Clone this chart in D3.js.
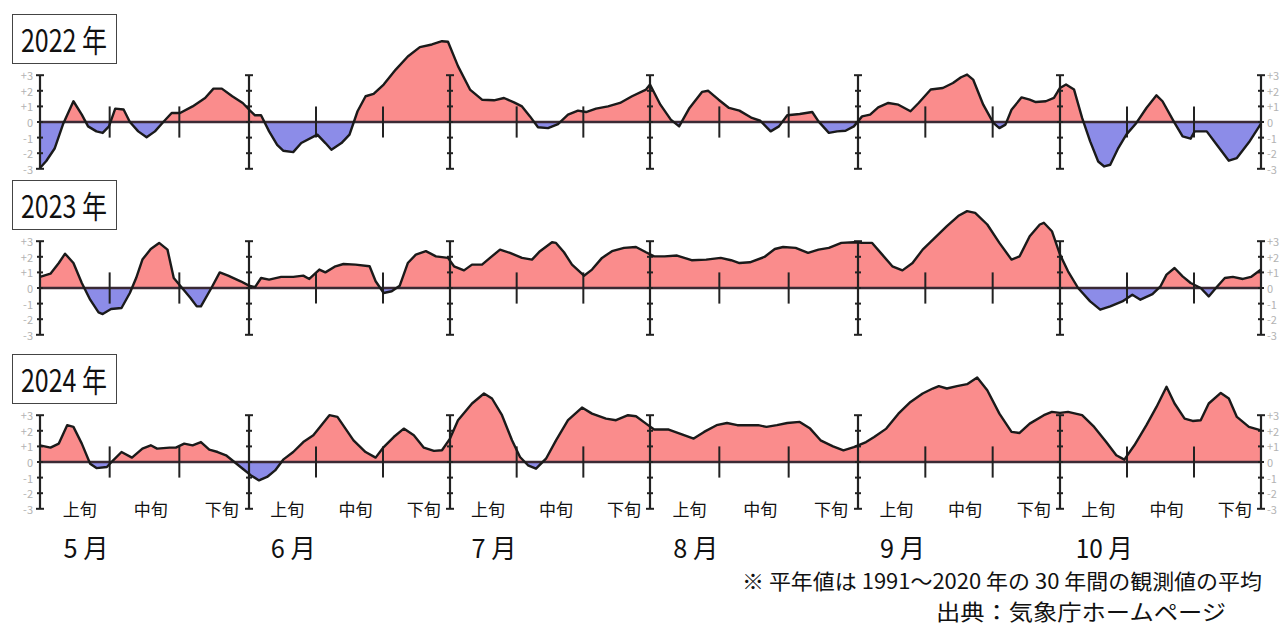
<!DOCTYPE html>
<html>
<head>
<meta charset="utf-8">
<script src="https://cdn.jsdelivr.net/npm/d3@7"></script>
<style>
  body { margin: 0; background: #fff; }
  svg { display: block; }
  text { font-family: "Noto Sans CJK JP", "Noto Sans", sans-serif; }
</style>
</head>
<body>
<svg id="chart" width="1280" height="628"></svg>
<script>
// labels
const years = ["2022 年", "2023 年", "2024 年"]
const months = ["5 月", "6 月", "7 月", "8 月", "9 月", "10 月"]
const dekads = ["上旬", "中旬", "下旬"]
const yTicks = [3, 2, 1, 0, -1, -2, -3]
const yTickLabels = ["+3", "+2", "+1", "0", "-1", "-2", "-3"]
const note1 = "※ 平年値は 1991～2020 年の 30 年間の観測値の平均"
const note2 = "出典：気象庁ホームページ"

// [months since 1 May, anomaly °C]
const anom2022 = [[0,-2.95],[0.03,-2.5],[0.07,-1.7],[0.11,-0.15],[0.16,1.33],[0.20,0.47],[0.23,-0.28],[0.27,-0.6],[0.30,-0.7],[0.33,-0.28],[0.36,0.86],[0.40,0.8],[0.43,0],[0.47,-0.6],[0.51,-0.98],[0.55,-0.6],[0.59,0],[0.63,0.58],[0.67,0.58],[0.73,1.0],[0.79,1.54],[0.83,2.14],[0.87,2.14],[0.92,1.65],[0.97,1.22],
  [1.00,0.8],[1.03,0.43],[1.06,0.43],[1.10,-0.6],[1.14,-1.46],[1.17,-1.84],[1.22,-1.93],[1.26,-1.35],[1.34,-0.81],[1.38,-1.35],[1.41,-1.78],[1.46,-1.35],[1.50,-0.81],[1.54,0.69],[1.58,1.65],[1.62,1.8],[1.67,2.4],[1.73,3.36],[1.79,4.2],[1.85,4.8],[1.91,4.97],[1.96,5.18],[1.99,5.14],
  [2.04,3.58],[2.10,2.08],[2.16,1.43],[2.22,1.39],[2.27,1.54],[2.32,1.26],[2.36,1.0],[2.40,0.36],[2.44,-0.34],[2.49,-0.39],[2.54,-0.13],[2.59,0.47],[2.64,0.73],[2.68,0.64],[2.73,0.86],[2.79,1.0],[2.85,1.22],[2.91,1.65],[2.98,2.08],
  [3.00,2.4],[3.05,1.11],[3.10,0.15],[3.14,-0.28],[3.19,0.9],[3.25,1.93],[3.28,2.0],[3.33,1.43],[3.38,0.9],[3.43,0.73],[3.49,0.26],[3.53,0.08],[3.58,-0.6],[3.62,-0.28],[3.66,0.43],[3.72,0.51],[3.78,0.64],[3.81,0.04],[3.86,-0.7],[3.90,-0.6],[3.94,-0.56],[3.98,-0.28],
  [4.02,0.36],[4.06,0.47],[4.10,0.94],[4.15,1.22],[4.20,1.11],[4.26,0.69],[4.30,1.22],[4.36,2.08],[4.42,2.18],[4.47,2.5],[4.51,2.87],[4.54,3.04],[4.57,2.72],[4.62,1.11],[4.67,-0.06],[4.70,-0.39],[4.73,-0.17],[4.76,0.79],[4.81,1.58],[4.85,1.43],[4.88,1.28],[4.93,1.33],[4.97,1.54],
  [5.00,2.18],[5.03,2.4],[5.07,2.08],[5.11,0.26],[5.15,-1.24],[5.19,-2.53],[5.22,-2.85],[5.25,-2.74],[5.29,-1.67],[5.33,-0.81],[5.38,-0.06],[5.43,0.9],[5.48,1.71],[5.51,1.33],[5.57,-0.06],[5.61,-0.92],[5.65,-1.07],[5.67,-0.6],[5.73,-0.6],[5.78,-1.46],[5.84,-2.48],[5.88,-2.31],[5.94,-1.3],[6.00,-0.1]]

const anom2023 = [[0,0.71],[0.05,0.92],[0.09,1.6],[0.12,2.2],[0.16,1.6],[0.20,0.32],[0.24,-0.75],[0.28,-1.56],[0.30,-1.67],[0.34,-1.35],[0.39,-1.28],[0.43,-0.32],[0.46,0.64],[0.49,1.82],[0.53,2.5],[0.57,2.89],[0.61,2.46],[0.64,0.64],[0.68,0],[0.72,-0.64],[0.75,-1.18],[0.77,-1.18],[0.82,0],[0.86,1.0],[0.90,0.79],[0.96,0.43],
  [1.00,0.15],[1.03,0.06],[1.06,0.64],[1.10,0.54],[1.16,0.71],[1.22,0.71],[1.27,0.79],[1.30,0.58],[1.35,1.18],[1.38,1.0],[1.43,1.39],[1.47,1.54],[1.53,1.5],[1.60,1.39],[1.63,0.43],[1.67,-0.32],[1.71,-0.21],[1.75,0.15],[1.79,1.6],[1.83,2.14],[1.88,2.36],[1.93,2.03],[1.99,1.93],
  [2.02,1.39],[2.07,1.13],[2.11,1.5],[2.16,1.5],[2.20,1.93],[2.25,2.46],[2.30,2.25],[2.36,1.93],[2.41,1.82],[2.45,2.36],[2.51,2.93],[2.53,2.89],[2.57,2.29],[2.61,1.5],[2.67,0.79],[2.71,1.18],[2.76,1.93],[2.81,2.36],[2.87,2.57],[2.93,2.63],[2.98,2.29],
  [3.02,2.03],[3.07,2.03],[3.13,2.08],[3.20,1.78],[3.27,1.82],[3.34,1.93],[3.39,1.78],[3.43,1.6],[3.48,1.65],[3.55,1.99],[3.60,2.5],[3.64,2.63],[3.70,2.57],[3.76,2.25],[3.81,2.46],[3.86,2.57],[3.92,2.89],[3.98,2.93],
  [4.02,2.89],[4.07,2.89],[4.12,2.14],[4.17,1.39],[4.22,1.13],[4.27,1.6],[4.32,2.46],[4.38,3.21],[4.44,3.96],[4.50,4.65],[4.54,4.93],[4.58,4.82],[4.64,4.07],[4.70,2.89],[4.76,1.82],[4.80,2.03],[4.85,3.32],[4.90,4.07],[4.92,4.18],[4.96,3.64],
  [5.00,2.14],[5.04,1.07],[5.09,0],[5.15,-0.86],[5.20,-1.39],[5.25,-1.18],[5.31,-0.86],[5.36,-0.43],[5.40,-0.75],[5.46,-0.39],[5.50,0.11],[5.53,0.86],[5.57,1.28],[5.61,0.75],[5.65,0.32],[5.70,0],[5.74,-0.54],[5.78,0.06],[5.82,0.64],[5.86,0.71],[5.91,0.58],[5.95,0.71],[6.00,1.18]]

const anom2024 = [[0,1.07],[0.05,0.92],[0.09,1.18],[0.13,2.36],[0.16,2.25],[0.20,1.18],[0.24,-0.11],[0.27,-0.39],[0.32,-0.32],[0.35,0.11],[0.39,0.64],[0.44,0.28],[0.49,0.86],[0.53,1.07],[0.56,0.86],[0.62,0.92],[0.65,0.92],[0.69,1.18],[0.73,1.07],[0.77,1.28],[0.81,0.79],[0.85,0.64],[0.89,0.43],[0.93,0],[0.97,-0.43],
  [1.01,-0.86],[1.05,-1.18],[1.09,-0.96],[1.13,-0.54],[1.17,0.15],[1.22,0.64],[1.27,1.28],[1.32,1.71],[1.36,2.36],[1.40,3.0],[1.44,2.89],[1.48,2.14],[1.52,1.39],[1.58,0.64],[1.63,0.28],[1.67,0.96],[1.72,1.6],[1.77,2.14],[1.82,1.71],[1.87,0.92],[1.92,0.71],[1.96,0.75],
  [2.00,1.5],[2.04,2.68],[2.11,3.75],[2.17,4.39],[2.21,4.07],[2.26,3.0],[2.31,1.39],[2.35,0.32],[2.39,-0.21],[2.43,-0.43],[2.48,0.21],[2.53,1.39],[2.59,2.68],[2.66,3.49],[2.71,3.1],[2.78,2.78],[2.83,2.68],[2.89,3.0],[2.93,2.93],[2.98,2.46],
  [3.02,2.08],[3.09,2.08],[3.15,1.78],[3.21,1.5],[3.26,1.93],[3.32,2.36],[3.37,2.5],[3.42,2.36],[3.47,2.36],[3.52,2.36],[3.56,2.25],[3.61,2.36],[3.66,2.5],[3.72,2.57],[3.77,2.14],[3.82,1.39],[3.88,1.0],[3.93,0.75],[3.98,0.96],
  [4.04,1.28],[4.08,1.6],[4.14,2.14],[4.20,3.1],[4.26,3.85],[4.32,4.39],[4.37,4.71],[4.40,4.86],[4.44,4.71],[4.49,4.86],[4.54,4.99],[4.59,5.42],[4.64,4.6],[4.70,3.1],[4.76,1.93],[4.80,1.86],[4.85,2.46],[4.92,3.0],[4.96,3.21],
  [5.00,3.15],[5.04,3.21],[5.11,3.0],[5.17,2.25],[5.23,1.28],[5.28,0.43],[5.32,0.15],[5.37,1.07],[5.43,2.36],[5.48,3.53],[5.53,4.82],[5.57,3.75],[5.62,2.78],[5.66,2.63],[5.70,2.68],[5.74,3.75],[5.80,4.43],[5.84,4.07],[5.88,2.89],[5.94,2.25],[6.00,2.03]]

const series = [anom2022, anom2023, anom2024]

const svg = d3.select("#chart")
const W = 1280

// month images are not quite equal in width
const x = d3.scaleLinear()
    .domain([0, 1, 2, 3, 4, 5, 6])
    .range([40, 249, 450, 650, 858, 1060, 1261])

const zeros = [122, 288, 462]
const unit = 15.6

const posColor = "#fa8c8c"
const negColor = "#8c8ce8"

series.forEach((D, i) => {
  const z = zeros[i]
  const y = d3.scaleLinear().domain([-3, 3]).range([z + 3 * unit, z - 3 * unit])
  const g = svg.append("g").attr("class", "panel")

  // clip areas to above / below the zero line
  const defs = g.append("defs")
  defs.append("clipPath").attr("id", "above" + i)
    .append("rect").attr("x", 0).attr("y", 0).attr("width", W).attr("height", z)
  defs.append("clipPath").attr("id", "below" + i)
    .append("rect").attr("x", 0).attr("y", z).attr("width", W).attr("height", 200)

  const area = d3.area()
      .x(d => x(d[0]))
      .y0(y(0))
      .y1(d => y(d[1]))

  g.append("path").datum(D)
      .attr("d", area)
      .attr("fill", posColor)
      .attr("clip-path", "url(#above" + i + ")")
  g.append("path").datum(D)
      .attr("d", area)
      .attr("fill", negColor)
      .attr("clip-path", "url(#below" + i + ")")

  // zero line
  g.append("line")
      .attr("x1", x(0)).attr("x2", x(6))
      .attr("y1", y(0)).attr("y2", y(0))
      .attr("stroke", "#3a2a34").attr("stroke-width", 2.5)

  // dekad ticks
  const dk = []
  d3.range(6).forEach(m => { dk.push(m + 1 / 3); dk.push(m + 2 / 3) })
  g.selectAll(".dk").data(dk).enter().append("line")
      .attr("x1", d => x(d)).attr("x2", d => x(d))
      .attr("y1", y(1)).attr("y2", y(-1))
      .attr("stroke", "#222").attr("stroke-width", 2)

  // month axes
  const ax = g.selectAll(".ax").data(d3.range(7)).enter().append("g")
      .attr("transform", d => "translate(" + x(d) + ",0)")
  ax.append("line")
      .attr("y1", y(3)).attr("y2", y(-3))
      .attr("stroke", "#222").attr("stroke-width", 2.2)
  ax.selectAll("line.tk").data(yTicks).enter().append("line")
      .attr("class", "tk")
      .attr("x1", d => Math.abs(d) == 3 ? -4 : -3)
      .attr("x2", d => Math.abs(d) == 3 ? 4 : 3)
      .attr("y1", d => y(d)).attr("y2", d => y(d))
      .attr("stroke", "#222").attr("stroke-width", 2)

  // curve
  g.append("path").datum(D)
      .attr("d", d3.line().x(d => x(d[0])).y(d => y(d[1])))
      .attr("fill", "none")
      .attr("stroke", "#1a1a1a")
      .attr("stroke-width", 2.4)
      .attr("stroke-linejoin", "round")

  // y labels both sides (right ones run off the edge as in the source)
  g.selectAll(".yl").data(yTicks).enter().append("text")
      .attr("x", 33).attr("y", d => y(d))
      .attr("text-anchor", "end").attr("dominant-baseline", "central")
      .attr("font-size", 11).attr("fill", "#b3b3b3")
      .text((d, k) => yTickLabels[k])
  g.selectAll(".yr").data(yTicks).enter().append("text")
      .attr("x", 1267).attr("y", d => y(d))
      .attr("dominant-baseline", "central")
      .attr("font-size", 11).attr("fill", "#b3b3b3")
      .text((d, k) => yTickLabels[k])

  // year box
  g.append("rect")
      .attr("x", 12.5).attr("y", z - 107.5)
      .attr("width", 104).attr("height", 49)
      .attr("fill", "#fff").attr("stroke", "#444").attr("stroke-width", 1)
  g.append("text")
      .attr("x", 21).attr("y", z - 70)
      .attr("font-size", 31).attr("fill", "#111")
      .attr("textLength", 86).attr("lengthAdjust", "spacingAndGlyphs")
      .text(years[i])
})

// dekad labels under last panel
const dkOff = [0.19, 0.53, 0.87]
const dkLabels = []
d3.range(6).forEach(m => dekads.forEach((t, k) => dkLabels.push({ t: t, pos: m + dkOff[k] })))
svg.selectAll(".dkl").data(dkLabels).enter().append("text")
    .attr("x", d => x(d.pos)).attr("y", 516)
    .attr("text-anchor", "middle")
    .attr("font-size", 17).attr("fill", "#111")
    .text(d => d.t)

// month labels
svg.selectAll(".ml").data(months).enter().append("text")
    .attr("x", (d, m) => x(m + 0.22)).attr("y", 558)
    .attr("text-anchor", "middle")
    .attr("font-size", 26).attr("fill", "#111")
    .attr("textLength", (d, m) => m == 5 ? 57 : 45)
    .attr("lengthAdjust", "spacingAndGlyphs")
    .text(d => d)

// footnotes
svg.append("text")
    .attr("x", 742).attr("y", 589)
    .attr("font-size", 21).attr("fill", "#111")
    .attr("textLength", 520).attr("lengthAdjust", "spacingAndGlyphs")
    .text(note1)
svg.append("text")
    .attr("x", 936).attr("y", 620)
    .attr("font-size", 22).attr("fill", "#111")
    .attr("textLength", 290).attr("lengthAdjust", "spacingAndGlyphs")
    .text(note2)
</script>
</body>
</html>
